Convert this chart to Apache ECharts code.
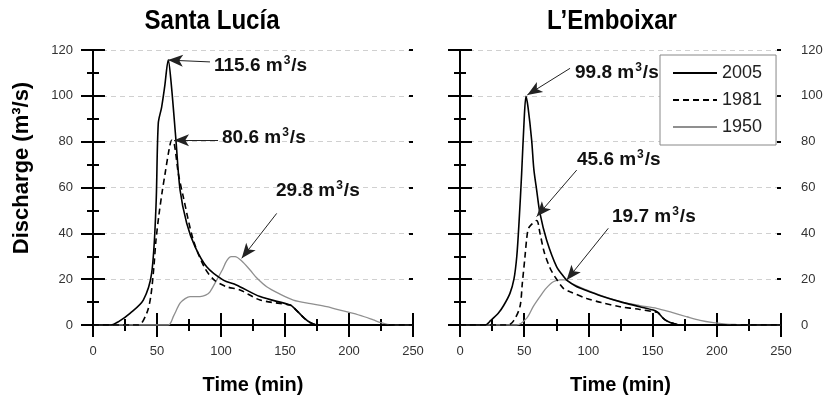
<!DOCTYPE html>
<html>
<head>
    <meta charset="utf-8">
    <title>Discharge hydrographs</title>
    <script src="https://cdn.jsdelivr.net/npm/echarts@6/dist/echarts.min.js"></script>
    <style type="text/css">
    body { margin: 0; background: #fff; }
    </style>
</head>
<body>
    <div id="main" style="width: 827px;height:400px;"></div>
    <script type="text/javascript">
        // panels
        var panelTitles = ['Santa Lucía', 'L\u2019Emboixar'];
        var years = ['2005', '1981', '1950'];

        // axis ranges (min)
        var timeMax = 250, timeStep = 50;
        var qMax = 120, qStep = 20;

        // Santa Lucía: [time, discharge]
        var lucia2005 = [[0,0],[14,0],[20,1.5],[28.9,5.1],[39.3,10.9],[45.8,22.5],[49.2,51.6],[51,88],[53.6,95],[56,104],[58.8,115.6],[61,106],[64.8,80.7],[68,59],[73.2,44.4],[79.7,34.2],[88.8,25.4],[101.8,19.6],[112,17.5],[130.5,12.4],[154,8.7],[157,7.5],[165,3],[170,1],[176,0],[250,0]];
        var lucia1981 = [[0,0],[35.4,0],[41.9,5.1],[45,12],[47.5,25],[49.2,37],[51.5,48],[54,58],[56.3,66],[59.6,77],[61.5,80.6],[63.5,79],[66.7,66],[70.5,56],[78.4,37],[87.5,24.7],[95,19.5],[104.4,16.7],[114.8,15.3],[130.5,10.9],[154,8.7],[157,7.5],[165,3],[170,1],[176,0],[250,0]];
        var lucia1950 = [[0,0],[58.8,0],[63,4],[68,9.5],[72,11.5],[75.8,12.4],[83.6,12.4],[88,13],[91.4,14.5],[96.6,19.6],[101,24],[104.4,28],[108,29.8],[111,29.8],[116,28],[122.7,24],[128,20.5],[135.7,16.7],[145,13.8],[156.5,10.9],[170,9.3],[182.6,8],[193,6.5],[203.4,5.1],[212,3.6],[219,2.2],[225,1],[230,0.3],[237,0],[250,0]];

        // L'Emboixar
        var embo2005 = [[0,0],[19.5,0],[24,2],[29.8,5.1],[34,8.5],[38.9,13.8],[42,20],[44.2,29.8],[46,45],[48,66],[50,90],[51.4,99.8],[53,95],[55.8,80.7],[57.5,68],[59.7,58.9],[62.3,48.7],[67.5,37],[75.3,25.4],[81.8,20.4],[83,19.6],[90,17],[97.4,15.3],[110,12.7],[124.6,10.2],[140,8],[150.5,6.5],[154,5.5],[158.3,2.9],[162,1.5],[166,0.7],[172,0],[250,0]];
        var embo1981 = [[0,0],[37.6,0],[42,2],[46.7,8],[48.5,18],[50.6,29.8],[52,38],[53.2,42],[55,43.5],[59.7,45.6],[62.3,40],[65.5,32],[70,25],[74,21],[80.5,16],[85.7,14.5],[98.7,11.6],[110,9.8],[124.6,8],[140,6.8],[150.5,5.8],[154,5.5],[158.3,2.9],[162,1.5],[166,0.7],[172,0],[250,0]];
        var embo1950 = [[0,0],[44,0],[52,3],[57,8],[62.3,12.4],[67,16],[72.7,18.9],[78,19.7],[82,19.7],[88,17.8],[98.7,15.3],[110,12.8],[124.6,10.2],[140,8.5],[153.2,7.3],[165,5.5],[176.6,3.6],[187,2],[197.3,1],[207,0.4],[215.5,0.2],[230,0],[250,0]];

        // peak annotations: value, text anchor, arrow tail, arrow head
        var luciaNotes = [
            ['115.6', [94.5, 113], [91.4, 114.8], [58.6, 115.6]],
            ['80.6', [100.8, 81.6], [97.7, 80.6], [63.3, 80.6]],
            ['29.8', [143, 58.5], [143.5, 48.7], [116.2, 29.1]]
        ];
        var emboNotes = [
            ['99.8', [89.6, 110], [85.7, 112], [52.4, 100.4]],
            ['45.6', [91.1, 72], [90.9, 67.6], [59.7, 47.3]],
            ['19.7', [118.4, 47.1], [115.5, 42.2], [83.1, 19.6]]
        ];

        var ff = '"Liberation Sans", Arial, sans-serif';

        // outer ticks on every frame side, plus a short inner stub
        function xAxisDef(grid, pos, inner) {
            var top = pos === 'top';
            return {
                type: 'value', gridIndex: grid, position: pos,
                min: 0, max: timeMax, interval: timeStep,
                axisLine: {show: !inner, lineStyle: {color: '#000', width: 2}},
                axisTick: {show: true, inside: !!inner, length: inner ? 4 : 12, lineStyle: {color: '#000', width: 2}},
                minorTick: {show: !inner, splitNumber: 2, length: 6, lineStyle: {color: '#000', width: 2}},
                axisLabel: {show: !top && !inner, margin: 20, color: '#333', fontSize: 13, fontFamily: ff},
                splitLine: {show: false},
                name: (top || inner) ? '' : 'Time (min)', nameLocation: 'middle', nameGap: 50,
                nameTextStyle: {fontSize: 20, fontWeight: 'bold', color: '#000', fontFamily: ff}
            };
        }
        function yAxisDef(grid, pos, labels, gridLines, inner) {
            return {
                type: 'value', gridIndex: grid, position: pos,
                min: 0, max: qMax, interval: qStep,
                axisLine: {show: !inner, lineStyle: {color: '#000', width: 2}},
                axisTick: {show: true, inside: !!inner, length: inner ? 4 : 12, lineStyle: {color: '#000', width: 2}},
                minorTick: {show: !inner, splitNumber: 2, length: 6, lineStyle: {color: '#000', width: 2}},
                axisLabel: {show: labels, margin: 20, color: '#333', fontSize: 13, fontFamily: ff},
                splitLine: {show: gridLines, lineStyle: {color: '#d0d0d0', type: [5, 4], width: 1}}
            };
        }

        var styles = {
            '2005': {color: '#000', width: 1.6, type: 'solid'},
            '1981': {color: '#000', width: 1.6, type: [6, 4]},
            '1950': {color: '#8f8f8f', width: 1.3, type: 'solid'}
        };

        function noteMarks(notes) {
            return {
                markLine: {
                    silent: true, animation: false,
                    symbol: ['none', 'arrow'], symbolSize: [9, 15],
                    lineStyle: {color: '#222', width: 1, type: 'solid'},
                    label: {show: false},
                    data: notes.map(function (n) { return [{coord: n[2]}, {coord: n[3]}]; })
                },
                markPoint: {
                    silent: true, animation: false,
                    symbolSize: 0,
                    label: {show: true, position: 'right', distance: 0, color: '#111',
                        fontSize: 19, fontWeight: 'bold', fontFamily: ff,
                        rich: {
                            t: {fontSize: 19, fontWeight: 'bold', fontFamily: ff, color: '#111', lineHeight: 22},
                            sup: {fontSize: 12, fontWeight: 'bold', fontFamily: ff, color: '#111',
                                verticalAlign: 'top', lineHeight: 22, padding: [0, 1, 8, 1]}
                        }},
                    data: notes.map(function (n) {
                        return {coord: n[1], label: {formatter: '{t|' + n[0] + ' m}{sup|3}{t|/s}'}};
                    })
                }
            };
        }

        function makeSeries(name, data, xi, yi, notes) {
            var s = {
                name: name, type: 'line', data: data,
                xAxisIndex: xi, yAxisIndex: yi,
                showSymbol: false, symbol: 'none', smooth: 0.3,
                lineStyle: styles[name], itemStyle: {color: styles[name].color},
                animation: false
            };
            if (notes) {
                var m = noteMarks(notes);
                s.markLine = m.markLine;
                s.markPoint = m.markPoint;
            }
            return s;
        }

        var myChart = echarts.init(document.getElementById('main'));
        var option = {
            backgroundColor: '#fff',
            legend: {
                orient: 'vertical', left: 660, top: 55,
                data: years,
                itemWidth: 44, itemHeight: 12, itemGap: 9,
                padding: [9, 14, 9, 12],
                borderColor: '#888', borderWidth: 1,
                backgroundColor: '#fff',
                itemStyle: {opacity: 0},
                textStyle: {fontSize: 18, color: '#222', fontFamily: ff},
                selectedMode: false
            },
            graphic: [
                {type: 'text', x: 212, y: 21, scaleX: 0.86,
                    style: {text: panelTitles[0], font: 'bold 28px ' + ff, fill: '#000',
                        align: 'center', verticalAlign: 'middle'}},
                {type: 'text', x: 612, y: 21, scaleX: 0.86,
                    style: {text: panelTitles[1], font: 'bold 28px ' + ff, fill: '#000',
                        align: 'center', verticalAlign: 'middle'}},
                {type: 'text', x: 22, y: 168, rotation: Math.PI / 2,
                    style: {text: 'Discharge (m\u00b3/s)', font: 'bold 22px ' + ff, fill: '#000',
                        align: 'center', verticalAlign: 'middle'}}
            ],
            grid: [
                {left: 93, right: 414, top: 50, bottom: 75},
                {left: 460, right: 46, top: 50, bottom: 75}
            ],
            xAxis: [
                xAxisDef(0, 'bottom'), xAxisDef(0, 'top'),
                xAxisDef(1, 'bottom'), xAxisDef(1, 'top'),
                xAxisDef(0, 'bottom', true), xAxisDef(1, 'bottom', true)
            ],
            yAxis: [
                yAxisDef(0, 'left', true, true), yAxisDef(0, 'right', false, false),
                yAxisDef(1, 'left', false, true), yAxisDef(1, 'right', true, false),
                yAxisDef(0, 'left', false, false, true), yAxisDef(0, 'right', false, false, true),
                yAxisDef(1, 'left', false, false, true), yAxisDef(1, 'right', false, false, true)
            ],
            series: [
                makeSeries('1950', lucia1950, 0, 0, null),
                makeSeries('1981', lucia1981, 0, 0, null),
                makeSeries('2005', lucia2005, 0, 0, luciaNotes),
                makeSeries('1950', embo1950, 2, 3, null),
                makeSeries('1981', embo1981, 2, 3, null),
                makeSeries('2005', embo2005, 2, 3, emboNotes)
            ]
        };
        myChart.setOption(option);
    </script>
</body>
</html>
